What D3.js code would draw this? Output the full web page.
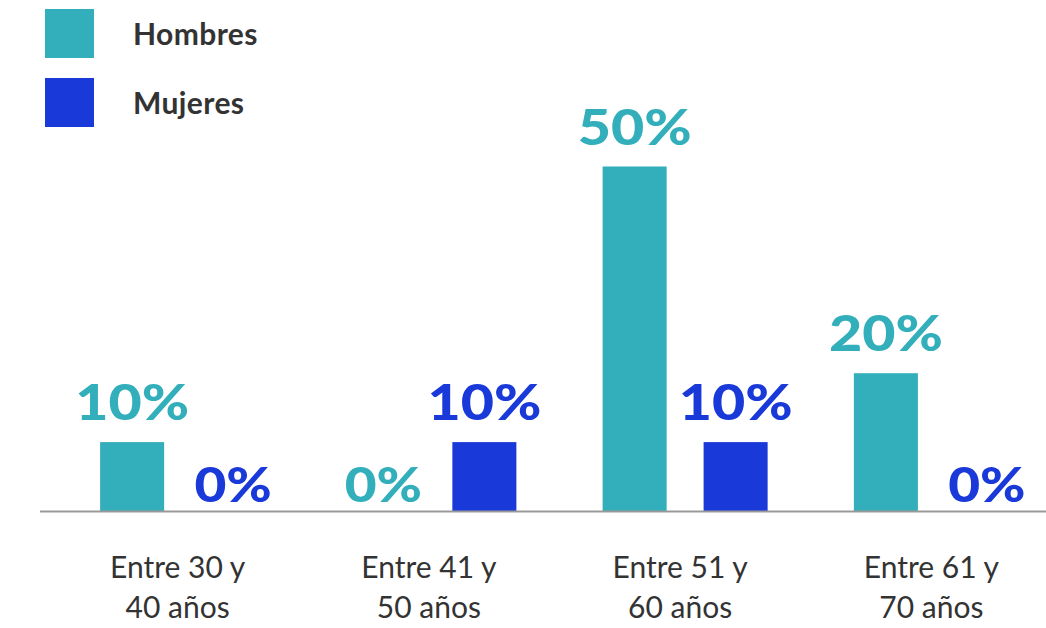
<!DOCTYPE html>
<html>
<head>
<meta charset="utf-8">
<script src="https://cdn.jsdelivr.net/npm/d3@7"></script>
<style>
  body { margin: 0; background: #fff; }
  svg { display: block; }
</style>
</head>
<body>
<script>
// Datos del gráfico
const categorias = ["Entre 30 y|40 años", "Entre 41 y|50 años", "Entre 51 y|60 años", "Entre 61 y|70 años"];
const series = ["Hombres", "Mujeres"];
const hombres = [10, 0, 50, 20];
const mujeres = [0, 10, 10, 0];

const W = 1046, H = 628;
const color = d3.scaleOrdinal().domain(series).range(["#33aebb", "#1a39d9"]);
const font = "Lato, 'Noto Sans', sans-serif";

const svg = d3.select("body").append("svg")
    .attr("width", W)
    .attr("height", H);

// Escalas
const x0 = d3.scaleBand()
    .domain(categorias)
    .range([57, 1062]);

const x1 = d3.scaleBand()
    .domain(series)
    .range([0, 165])
    .paddingInner(0.366);

const y = d3.scaleLinear()
    .domain([0, 50])
    .range([511, 166.5]);

const filas = categorias.map((c, i) => ({ cat: c, Hombres: hombres[i], Mujeres: mujeres[i] }));

// Barras
const grupos = svg.selectAll(".grupo")
    .data(filas)
    .enter().append("g")
    .attr("class", "grupo")
    .attr("transform", d => `translate(${x0(d.cat) + (x0.bandwidth() - 165) / 2},0)`);

const celdas = grupos.selectAll(".celda")
    .data(d => series.map(k => ({ key: k, value: d[k] })))
    .enter().append("g")
    .attr("class", "celda");

celdas.append("rect")
    .attr("x", d => x1(d.key))
    .attr("y", d => y(d.value))
    .attr("width", x1.bandwidth())
    .attr("height", d => y(0) - y(d.value))
    .attr("fill", d => color(d.key));

// Etiquetas de valor (fuente un poco más ancha que Lato)
celdas.append("text")
    .attr("x", d => x1(d.key) + x1.bandwidth() / 2)
    .attr("y", d => y(d.value) - (d.value === 0 ? 9 : 22))
    .attr("text-anchor", "middle")
    .attr("font-family", font)
    .attr("font-weight", "900")
    .attr("font-size", d => d.value === 0 ? "47px" : "49px")
    .attr("fill", d => color(d.key))
    .text(d => d.value + "%")
    .each(function () {
        const w = this.getComputedTextLength();
        d3.select(this)
            .attr("textLength", w * 1.17)
            .attr("lengthAdjust", "spacingAndGlyphs");
    });

// Línea base
svg.append("line")
    .attr("x1", 40).attr("x2", W)
    .attr("y1", 511.5).attr("y2", 511.5)
    .attr("stroke", "#999")
    .attr("stroke-width", 2);

// Etiquetas de categorías
const eje = svg.append("g")
    .attr("transform", "translate(-5,511)")
    .call(d3.axisBottom(x0).tickSize(0).tickFormat(""));
eje.select(".domain").remove();

eje.selectAll(".tick").append("text")
    .attr("text-anchor", "middle")
    .attr("font-family", font)
    .attr("font-size", "30px")
    .attr("fill", "#333")
    .selectAll("tspan")
    .data(d => d.split("|"))
    .enter().append("tspan")
    .attr("x", 0)
    .attr("y", (d, i) => 67 + i * 40)
    .text(d => d);

// Leyenda
const leyenda = svg.selectAll(".leyenda")
    .data(series)
    .enter().append("g")
    .attr("class", "leyenda")
    .attr("transform", (d, i) => `translate(45,${9 + i * 69})`);

leyenda.append("rect")
    .attr("width", 49)
    .attr("height", 49)
    .attr("fill", d => color(d));

leyenda.append("text")
    .attr("x", 88)
    .attr("y", 36)
    .attr("font-family", font)
    .attr("font-weight", "bold")
    .attr("font-size", "30px")
    .attr("letter-spacing", "0.4px")
    .attr("fill", "#333")
    .text(d => d);
</script>
</body>
</html>
